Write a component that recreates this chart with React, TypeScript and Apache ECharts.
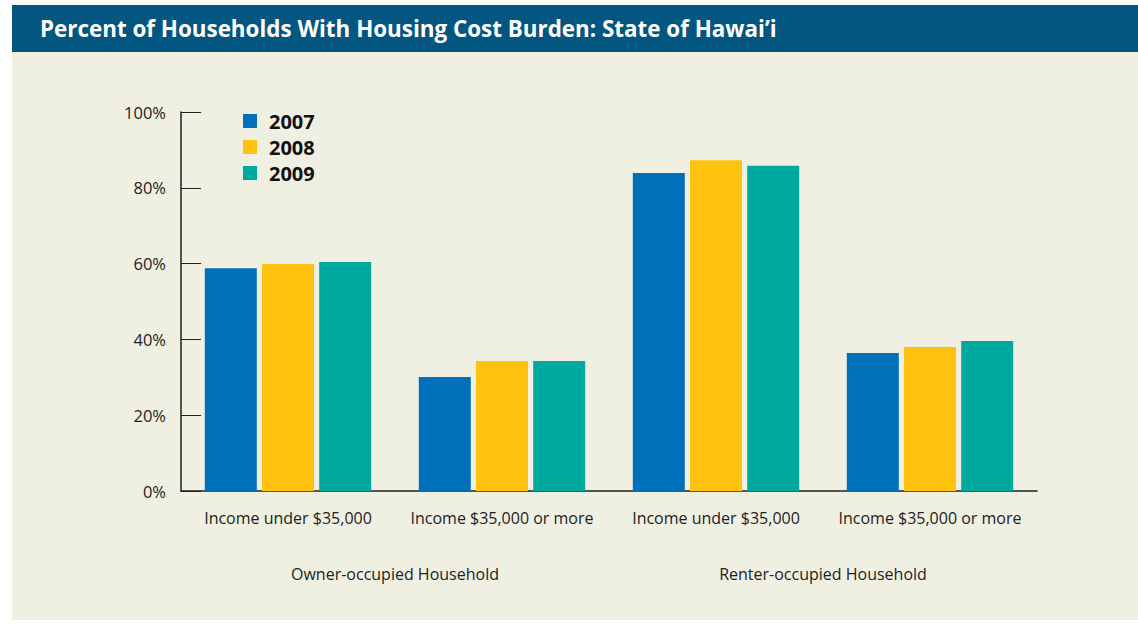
import React, { useEffect, useRef } from "react";
import * as echarts from "echarts";

const categories = ["Income under $35,000", "Income $35,000 or more", "Income under $35,000", "Income $35,000 or more"];
const groups = ["Owner-occupied Household", "Renter-occupied Household"];
const years = ["2007", "2008", "2009"];
const values2007 = [58.8, 30.1, 83.9, 36.4];
const values2008 = [59.9, 34.3, 87.3, 38.0];
const values2009 = [60.4, 34.3, 85.8, 39.6];
const colors = ["#0070BA", "#FFC20E", "#00A99D"];
const title = "Percent of Households With Housing Cost Burden: State of Hawai\u2019i";

export default function App() {
  const ref = useRef<HTMLDivElement>(null);
  useEffect(() => {
    if (!ref.current) return;
    const chart = echarts.init(ref.current, null, { renderer: "svg" });
    const font = "'Open Sans', 'Noto Sans', sans-serif";
    const seriesData = [values2007, values2008, values2009];
    chart.setOption({
      animation: false,
      backgroundColor: "#ffffff",
      textStyle: { fontFamily: font },
      graphic: [
        { type: "rect", z: -10, shape: { x: 12, y: 52, width: 1126, height: 568 }, style: { fill: "#F0F0E2" } },
        { type: "rect", z: -10, shape: { x: 12, y: 5, width: 1126, height: 47 }, style: { fill: "#03567F" } },
        { type: "text", x: 40, y: 28, style: { text: title, fill: "#ffffff", font: `bold 22.4px ${font}`, textVerticalAlign: "middle" } },
      ],
      legend: {
        data: years,
        orient: "vertical",
        left: 243,
        top: 111,
        padding: 0,
        itemWidth: 14,
        itemHeight: 14,
        itemGap: 6,
        icon: "rect",
        textStyle: { fontSize: 20, fontWeight: "bold", color: "#111", fontFamily: font, padding: [0, 0, 0, 7] },
      },
      grid: { left: 181, right: 101, top: 112, bottom: 137 },
      xAxis: [
        {
          type: "category",
          data: categories,
          axisLine: { lineStyle: { color: "#222", width: 1.5 } },
          axisTick: { inside: true, length: 10, lineStyle: { color: "#222" } },
          axisLabel: { color: "#222", fontSize: 16, margin: 19, interval: 0, fontFamily: font },
        },
        {
          type: "category",
          position: "bottom",
          data: groups,
          axisLine: { show: false },
          axisTick: { show: false },
          axisLabel: { color: "#222", fontSize: 16, margin: 75, interval: 0, fontFamily: font },
        },
      ],
      yAxis: {
        type: "value",
        min: 0,
        max: 100,
        interval: 20,
        splitLine: { show: false },
        axisLine: { show: true, lineStyle: { color: "#222", width: 1.5 } },
        axisTick: { show: true, inside: true, length: 20, lineStyle: { color: "#222" } },
        axisLabel: { formatter: "{value}%", color: "#222", fontSize: 16.5, margin: 15, fontFamily: font },
      },
      series: years.map((y, i) => ({
        name: y,
        type: "bar",
        xAxisIndex: 0,
        data: seriesData[i],
        barWidth: 52,
        barGap: "10%",
        itemStyle: { color: colors[i] },
      })),
    });
    return () => chart.dispose();
  }, []);
  return <div ref={ref} style={{ position: "absolute", left: 0, top: 0, width: 1138, height: 628 }} />;
}
